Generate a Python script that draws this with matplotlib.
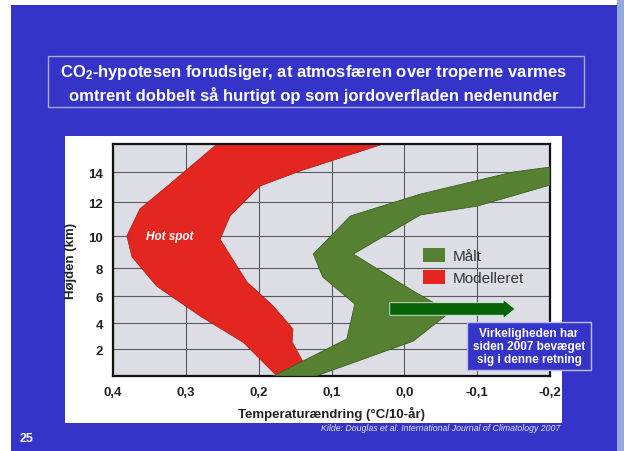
import matplotlib
matplotlib.use("Agg")
import matplotlib.pyplot as plt
import numpy as np
from matplotlib.patches import Rectangle, Patch

plt.rcParams["font.family"] = ["Liberation Sans", "DejaVu Sans"]
plt.rcParams["mathtext.fontset"] = "custom"
plt.rcParams["mathtext.rm"] = "Liberation Sans:bold"
plt.rcParams["mathtext.default"] = "rm"

W, H = 624, 452
BLUE = "#3434C8"
RED = "#E3261F"
GREEN = "#568133"

# envelopes: temperature trend (°C/10-år) vs height (km)
modelled_temp = [0.257, 0.322, 0.363, 0.381, 0.374, 0.340, 0.280, 0.221, 0.175,
                 0.147, 0.139, 0.154, 0.153, 0.180, 0.216, 0.253, 0.239, 0.198,
                 0.143, 0.029]
modelled_km = [15.87, 13.2, 11.6, 10.0, 8.7, 6.7, 4.5, 2.5, 0.0,
               0.0, 1.04, 2.54, 3.54, 5.26, 7.0, 9.8, 11.2, 13.07,
               14.07, 15.87]
measured_temp = [0.180, 0.079, 0.068, 0.112, 0.125, 0.074, -0.022, -0.149, -0.2,
                 -0.2, -0.100, -0.022, 0.070, -0.012, -0.063, -0.012, 0.102, 0.121]
measured_km = [0.0, 2.77, 5.41, 7.36, 8.875, 11.18, 12.53, 14.0, 14.33,
               13.13, 11.76, 11.24, 8.875, 6.36, 4.81, 2.6, 0.37, 0.0]

x_ticks = [0.4, 0.3, 0.2, 0.1, 0.0, -0.1, -0.2]
x_labels = ["0,4", "0,3", "0,2", "0,1", "0,0", "-0,1", "-0,2"]
y_ticks = [2, 4, 6, 8, 10, 12, 14]

# the height axis is not linear in the original (pressure levels)
scale_km = [0, 2, 4, 6, 8, 10, 12, 14, 16]
scale_pos = [0, 27, 53, 80, 108, 140, 174, 204, 234]


def fwd(y):
    return np.interp(y, scale_km, scale_pos)


def inv(p):
    return np.interp(p, scale_pos, scale_km)


def box(x0, y0, x1, y1):
    """pixel box (top-left origin) -> figure fraction rect"""
    return [x0 / W, 1 - y1 / H, (x1 - x0) / W, (y1 - y0) / H]


def pt(x, y):
    return x / W, 1 - y / H


fig = plt.figure(figsize=(W / 100, H / 100), dpi=100)
fig.patch.set_facecolor("white")
fig.add_artist(Rectangle((11 / W, 0), (617 - 11) / W, 1 - 6 / H,
                         transform=fig.transFigure, fc=BLUE, ec="none", zorder=-3))
fig.add_artist(Rectangle((617 / W, 0), 7 / W, 1, transform=fig.transFigure,
                         fc="#93A8D8", ec="none", zorder=-3))
fig.add_artist(Rectangle(pt(65, 424), (562 - 65) / W, (424 - 137) / H,
                         transform=fig.transFigure, fc="white", ec="none", zorder=-2))

# title box
fig.add_artist(Rectangle(pt(48, 108), (584 - 48) / W, (108 - 57) / H,
                         transform=fig.transFigure, fc="none", ec="#A8A8E8", lw=1))
fig.text(*pt(314, 73), "CO$_2$-hypotesen forudsiger, at atmosfæren over troperne varmes",
         ha="center", va="center", color="white", fontsize=12, fontweight="bold")
fig.text(*pt(314, 95), "omtrent dobbelt så hurtigt op som jordoverfladen nedenunder",
         ha="center", va="center", color="white", fontsize=12, fontweight="bold")

ax = fig.add_axes(box(113, 145, 550, 377))
ax.set_facecolor("#DDDDE5")
ax.set_yscale("function", functions=(fwd, inv))
ax.fill(modelled_temp, modelled_km, fc=RED, ec="#B01810", lw=0.5, zorder=2)
ax.fill(measured_temp, measured_km, fc=GREEN, ec="#3E5E22", lw=0.6, zorder=3)

ax.set_xlim(0.4, -0.2)
ax.set_ylim(0, 15.87)
ax.set_xticks(x_ticks, x_labels)
ax.set_yticks(y_ticks)
ax.grid(True, color="#5A5A5A", lw=0.8, zorder=1)
ax.set_axisbelow(True)
ax.tick_params(length=0, labelsize=9.5, colors="#222222", pad=7)
for lab in ax.get_xticklabels() + ax.get_yticklabels():
    lab.set_fontweight("bold")
for sp in ax.spines.values():
    sp.set_linewidth(1.6)
    sp.set_color("#111111")
ax.set_xlabel("Temperaturændring (°C/10-år)", fontsize=9.5, fontweight="bold",
              color="#222222", labelpad=6)
ax.set_ylabel("Højden (km)", fontsize=9.5, fontweight="bold", color="#222222",
              labelpad=8)

ax.text(0.322, 10.0, "Hot spot", ha="center", va="center", color="white",
        fontsize=8.5, fontweight="bold", style="italic", zorder=4)

handles = [Patch(fc=GREEN, ec="none"), Patch(fc=RED, ec="none")]
ax.legend(handles, ["Målt", "Modelleret"], loc="upper left",
          bbox_to_anchor=((423 - 113) / 437, (377 - 249) / 232),
          frameon=False, fontsize=11, labelcolor="#333333",
          handlelength=1.45, handleheight=1.0, handletextpad=0.5,
          labelspacing=0.45, borderpad=0, borderaxespad=0)

ax.annotate("", xy=(-0.152, 5.04), xytext=(0.02, 5.04),
            arrowprops=dict(arrowstyle="simple,head_length=0.9,head_width=1.45,tail_width=0.95",
                            fc="#076307", ec="#DDEEDD", lw=0.6, mutation_scale=9.5,
                            shrinkA=0, shrinkB=0), zorder=5)

fig.add_artist(Rectangle(pt(467, 371), (591 - 467) / W, (371 - 323) / H,
                         transform=fig.transFigure, fc=BLUE, ec="#C0C0F0", lw=1, zorder=5))
fig.text(*pt(529, 347), "Virkeligheden har\nsiden 2007 bevæget\nsig i denne retning",
         ha="center", va="center", color="white", fontsize=8.5, fontweight="bold",
         linespacing=1.15, zorder=6)

fig.text(*pt(560, 429), "Kilde: Douglas et al. International Journal of Climatology 2007",
         ha="right", va="center", color="#E4E4F4", fontsize=6.3, style="italic")
fig.text(*pt(27, 439), "25", ha="center", va="center", color="white",
         fontsize=9, fontweight="bold")

fig.savefig("out.png", dpi=100)
